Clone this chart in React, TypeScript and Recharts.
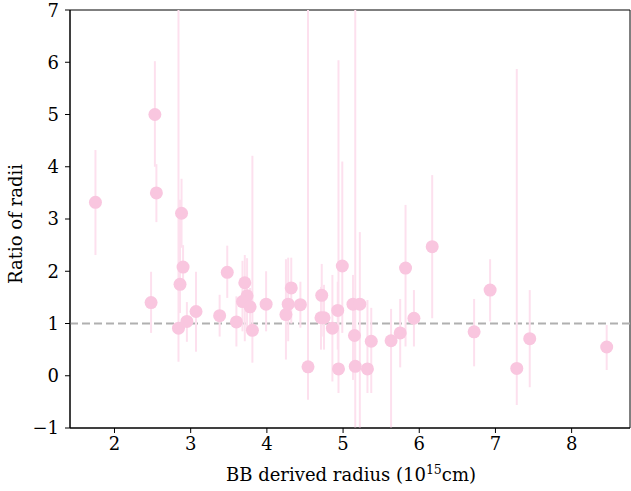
import React from "react";
import {
  ScatterChart, Scatter, XAxis, YAxis, ErrorBar, ReferenceLine, ReferenceArea, Label,
} from "recharts";

// BB derived radius (1e15 cm)
const radius = [
  1.75, 2.48, 2.53, 2.55, 2.84, 2.88, 2.86, 2.9, 2.95, 3.07,
  3.38, 3.48, 3.6, 3.71, 3.74, 3.68, 3.78, 3.81, 3.99, 4.25,
  4.28, 4.32, 4.44, 4.54, 4.72, 4.71, 4.75, 4.86, 4.93, 4.94,
  4.99, 5.13, 5.15, 5.16, 5.22, 5.32, 5.37, 5.63, 5.75, 5.82,
  5.93, 6.17, 6.72, 6.93, 7.28, 7.45, 8.46,
];
// ratio of radii
const ratio = [
  3.32, 1.4, 5.0, 3.5, 0.91, 3.11, 1.75, 2.08, 1.04, 1.23,
  1.15, 1.98, 1.03, 1.78, 1.53, 1.42, 1.32, 0.87, 1.37, 1.17,
  1.37, 1.68, 1.36, 0.17, 1.54, 1.11, 1.11, 0.91, 1.25, 0.13,
  2.1, 1.37, 0.77, 0.18, 1.37, 0.13, 0.66, 0.67, 0.82, 2.06,
  1.1, 2.47, 0.84, 1.64, 0.14, 0.71, 0.55,
];
// lower / upper ends of the error bars
const lower = [
  2.31, 0.82, 4.0, 2.94, 0.27, 2.45, 1.2, 1.64, 0.65, 0.46,
  0.75, 1.49, 0.56, 0.66, 0.9, 0.85, 0.95, 0.25, 0.85, 0.31,
  0.66, 1.0, 0.92, -0.46, 0.75, 0.5, 0.5, -0.11, 0.5, -0.33,
  0.82, -0.08, 0.3, -1.0, -1.0, -0.33, -0.33, -1.0, 0.16, 0.56,
  0.56, 1.1, 0.18, 1.04, -0.56, -0.22, 0.11,
];
const upper = [
  4.32, 1.99, 6.02, 4.05, 7.0, 3.77, 3.37, 2.5, 1.41, 1.99,
  1.55, 2.49, 1.52, 2.31, 2.25, 2.2, 1.68, 4.21, 2.0, 2.23,
  2.26, 2.26, 1.8, 7.0, 2.14, 1.7, 1.74, 1.93, 1.8, 6.04,
  4.1, 1.93, 1.3, 7.0, 2.75, 1.45, 1.3, 1.28, 1.47, 3.27,
  1.64, 3.84, 1.47, 2.23, 5.87, 1.64, 0.97,
];

const xTicks = [2, 3, 4, 5, 6, 7, 8];
const yTicks = [-1, 0, 1, 2, 3, 4, 5, 6, 7];

const data = radius.map((x, i) => ({
  x,
  y: ratio[i],
  err: [ratio[i] - lower[i], upper[i] - ratio[i]],
}));

const font = "DejaVu Serif";
const fmt = (v: number) => (v < 0 ? `\u2212${Math.abs(v)}` : `${v}`);

export default function App() {
  return (
    <div style={{ position: "absolute", left: 0, top: 0, background: "#fff" }}>
      <ScatterChart width={631} height={491} margin={{ top: 10, right: 1, bottom: 0, left: 0 }}>
        <XAxis
          type="number" dataKey="x" domain={[1.416, 8.766]} ticks={xTicks} height={63}
          allowDataOverflow stroke="#000" tickSize={5} tickMargin={4}
          tick={{ fontSize: 18, fill: "#000", fontFamily: font }} tickFormatter={fmt}
        >
          <Label
            content={() => (
              <text x={351} y={481} textAnchor="middle" fontSize={18} fontFamily={font} fill="#000">
                BB derived radius (10<tspan dy={-7} fontSize={12.5}>15</tspan>
                <tspan dy={7}>cm)</tspan>
              </text>
            )}
          />
        </XAxis>
        <YAxis
          type="number" dataKey="y" domain={[-1, 7]} ticks={yTicks} width={70}
          allowDataOverflow stroke="#000" tickSize={5} tickMargin={6}
          tick={{ fontSize: 18, fill: "#000", fontFamily: font }} tickFormatter={fmt}
        >
          <Label
            content={() => (
              <text x={22} y={224} transform="rotate(-90 22 224)" textAnchor="middle"
                fontSize={18} fontFamily={font} fill="#000">
                Ratio of radii
              </text>
            )}
          />
        </YAxis>
        <ReferenceArea x1={1.416} x2={8.766} y1={-1} y2={7} fill="none" stroke="#000" strokeWidth={1} />
        <ReferenceLine y={1} stroke="#b0b0b0" strokeWidth={2} strokeDasharray="8 4" />
        <Scatter
          data={data} isAnimationActive={false}
          shape={(p: any) => <circle cx={p.cx} cy={p.cy} r={6.5} fill="#f9c6df" />}
        >
          <ErrorBar dataKey="err" direction="y" width={0} stroke="#fde0ee" strokeWidth={2} isAnimationActive={false} />
        </Scatter>
      </ScatterChart>
    </div>
  );
}
